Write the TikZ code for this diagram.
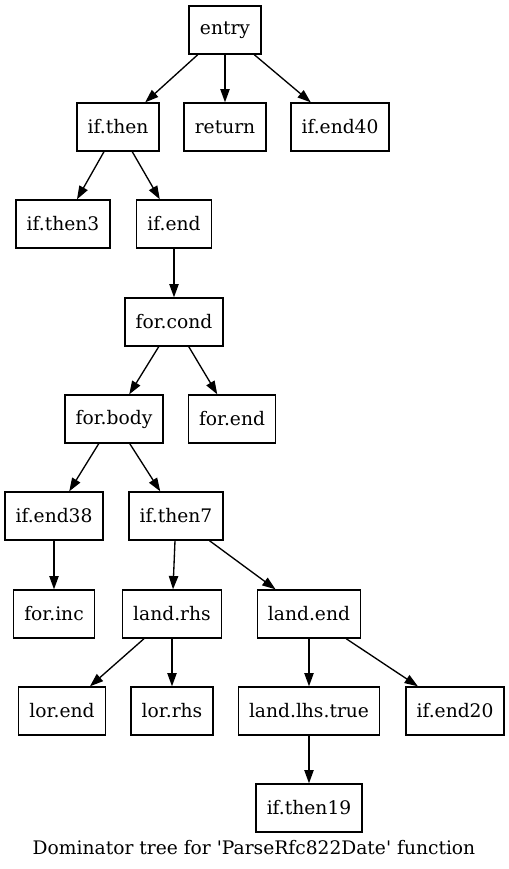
\documentclass[tikz,border=0pt]{standalone}
\usepackage{fontspec}
\setmainfont{DejaVu Serif}
\usetikzlibrary{arrows.meta}
\begin{document}
\begin{tikzpicture}[x=0.75pt,y=-0.75pt,
    font=\fontsize{14}{17}\selectfont,
    blk/.style={draw=black,line width=1pt,minimum height=36pt,minimum width=54pt,inner xsep=8pt},
    edge/.style={line width=1pt,-{Triangle[length=10pt,width=7pt]}}]
  \useasboundingbox (0,0) rectangle (509,869);
  % rank 0
  \node[blk] (entry) at (225,30) {entry};
  % rank 1
  \node[blk] (ifthen) at (118,127) {if.then};
  \node[blk] (return) at (225,127) {return};
  \node[blk] (ifendforty) at (340,127) {if.end40};
  % rank 2
  \node[blk] (ifthenthree) at (63,224) {if.then3};
  \node[blk] (ifend) at (174,224) {if.end};
  % rank 3
  \node[blk] (forcond) at (174,322) {for.cond};
  % rank 4
  \node[blk] (forbody) at (114,419) {for.body};
  \node[blk] (forend) at (232,419) {for.end};
  % rank 5
  \node[blk] (ifendthirtyeight) at (54,516) {if.end38};
  \node[blk] (ifthenseven) at (176,516) {if.then7};
  % rank 6
  \node[blk] (forinc) at (54,614) {for.inc};
  \node[blk] (landrhs) at (172,614) {land.rhs};
  \node[blk] (landend) at (309,614) {land.end};
  % rank 7
  \node[blk] (lorend) at (62,711) {lor.end};
  \node[blk] (lorrhs) at (172,711) {lor.rhs};
  \node[blk] (landlhstrue) at (309,711) {land.lhs.true};
  \node[blk] (ifendtwenty) at (455,711) {if.end20};
  % rank 8
  \node[blk] (ifthennineteen) at (309,808) {if.then19};
  \node (caption) at (254,848) {Dominator tree for \textquotesingle ParseRfc822Date\textquotesingle\ function};
  \foreach \a/\b in {entry/ifthen,entry/return,entry/ifendforty,
      ifthen/ifthenthree,ifthen/ifend,ifend/forcond,
      forcond/forbody,forcond/forend,
      forbody/ifendthirtyeight,forbody/ifthenseven,
      ifendthirtyeight/forinc,ifthenseven/landrhs,ifthenseven/landend,
      landrhs/lorend,landrhs/lorrhs,
      landend/landlhstrue,landend/ifendtwenty,
      landlhstrue/ifthennineteen}{
    \draw[edge] (\a) -- (\b);
  }
\end{tikzpicture}
\end{document}
